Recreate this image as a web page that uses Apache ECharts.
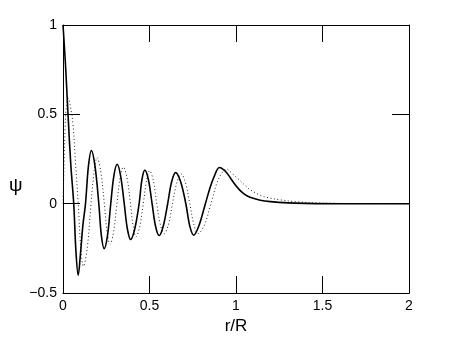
<!DOCTYPE html>
<html>
<head>
<meta charset="utf-8">
<script src="https://cdn.jsdelivr.net/npm/echarts@6/dist/echarts.min.js"></script>
<style>html,body{margin:0;padding:0;background:#fff;}#c{width:452px;height:340px;}</style>
</head>
<body>
<div id="c"></div>
<script>
// Tick labels
const xTicks = [0, 0.5, 1, 1.5, 2];
const yTicks = [-0.5, 0, 0.5, 1];

// Solid curve
const solidX = [0, 0.008, 0.016, 0.029, 0.045, 0.062, 0.075, 0.088, 0.101, 0.115, 0.13, 0.147, 0.164, 0.185, 0.207, 0.222, 0.238, 0.257, 0.276, 0.294, 0.313, 0.333, 0.354, 0.372, 0.391, 0.415, 0.44, 0.456, 0.473, 0.494, 0.515, 0.535, 0.556, 0.58, 0.605, 0.628, 0.651, 0.68, 0.71, 0.733, 0.756, 0.785, 0.823, 0.85, 0.873, 0.904, 0.935, 0.965, 1.0, 1.023, 1.05, 1.081, 1.14, 1.2, 1.3, 1.4, 1.6, 2.0];
const solidY = [1, 0.88, 0.75, 0.5, 0.22, 0, -0.27, -0.40, -0.28, -0.12, 0, 0.21, 0.298, 0.21, 0, -0.18, -0.251, -0.18, 0, 0.156, 0.221, 0.156, 0, -0.14, -0.2, -0.14, 0, 0.133, 0.188, 0.133, 0, -0.126, -0.178, -0.123, 0, 0.123, 0.174, 0.123, 0, -0.125, -0.176, -0.125, 0, 0.09, 0.15, 0.203, 0.185, 0.148, 0.10, 0.075, 0.052, 0.036, 0.02, 0.012, 0.005, 0.002, 0, 0];

// Dotted curve
const dotX = [0, 0.006, 0.012, 0.02, 0.03, 0.042, 0.058, 0.073, 0.088, 0.103, 0.118, 0.14, 0.162, 0.18, 0.197, 0.218, 0.239, 0.255, 0.272, 0.292, 0.312, 0.33, 0.349, 0.37, 0.39, 0.406, 0.422, 0.443, 0.464, 0.483, 0.501, 0.522, 0.542, 0.563, 0.585, 0.609, 0.633, 0.658, 0.683, 0.708, 0.733, 0.757, 0.78, 0.818, 0.855, 0.9, 0.946, 0.965, 1.0, 1.023, 1.05, 1.081, 1.139, 1.177, 1.254, 1.35, 1.5, 2.0];
const dotY = [0, 0.22, 0.42, 0.55, 0.59, 0.55, 0.44, 0.22, 0, -0.25, -0.35, -0.25, 0, 0.182, 0.258, 0.182, 0, -0.16, -0.227, -0.16, 0, 0.145, 0.205, 0.145, 0, -0.13, -0.185, -0.13, 0, 0.13, 0.185, 0.13, 0, -0.118, -0.167, -0.118, 0, 0.118, 0.167, 0.118, 0, -0.118, -0.167, -0.118, 0, 0.14, 0.194, 0.181, 0.15, 0.13, 0.105, 0.079, 0.048, 0.036, 0.022, 0.011, 0.003, 0];

const font = 'Liberation Sans, Arial, Helvetica, sans-serif';
const chart = echarts.init(document.getElementById('c'), null, {renderer: 'canvas'});
const fmt = v => String(v).replace('-', '\u2212');

const axCommon = {
  type: 'value',
  axisLine: {show: true, onZero: false, lineStyle: {color: '#000', width: 1}},
  axisTick: {show: true, inside: true, length: 17, lineStyle: {color: '#000', width: 1}},
  splitLine: {show: false},
  interval: 0.5
};

chart.setOption({
  animation: false,
  backgroundColor: '#fff',
  grid: {left: 63, right: 43, top: 25, bottom: 42, containLabel: false},
  xAxis: [
    Object.assign({}, axCommon, {
      position: 'bottom', min: xTicks[0], max: xTicks[xTicks.length - 1],
      axisLabel: {show: true, margin: 6, color: '#000', fontSize: 14, fontFamily: font, formatter: fmt},
      name: 'r/R', nameLocation: 'middle', nameGap: 21,
      nameTextStyle: {color: '#000', fontSize: 17, fontFamily: font}
    }),
    Object.assign({}, axCommon, {
      position: 'top', min: xTicks[0], max: xTicks[xTicks.length - 1],
      axisLabel: {show: false}
    })
  ],
  yAxis: [
    Object.assign({}, axCommon, {
      position: 'left', min: yTicks[0], max: yTicks[yTicks.length - 1],
      axisLabel: {show: true, margin: 6, color: '#000', fontSize: 14, fontFamily: font, formatter: fmt}
    }),
    Object.assign({}, axCommon, {
      position: 'right', min: yTicks[0], max: yTicks[yTicks.length - 1],
      axisLabel: {show: false}
    })
  ],
  graphic: [{
    type: 'text', left: 9, top: 176,
    style: {text: 'ψ', font: '19px ' + font, fill: '#000'}
  }],
  series: [
    {
      type: 'line', xAxisIndex: 0, yAxisIndex: 0,
      data: solidX.map((x, i) => [x, solidY[i]]),
      showSymbol: false, smooth: 0.35,
      lineStyle: {color: '#000', width: 1.6, type: 'solid'},
      z: 3
    },
    {
      type: 'line', xAxisIndex: 0, yAxisIndex: 0,
      data: dotX.map((x, i) => [x, dotY[i]]),
      showSymbol: false, smooth: 0.35,
      lineStyle: {color: '#222', width: 1, type: [1, 2.5]},
      z: 2
    }
  ]
});
</script>
</body>
</html>
